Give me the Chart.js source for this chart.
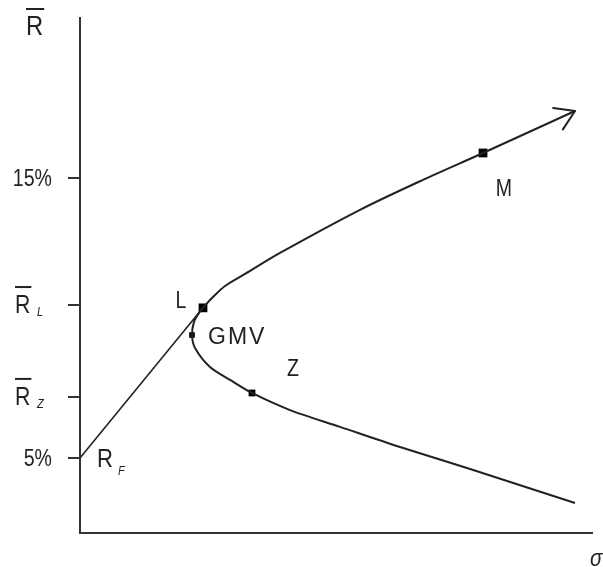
<!DOCTYPE html>
<html>
<head>
<meta charset="utf-8">
<script src="https://cdn.jsdelivr.net/npm/chart.js@4/dist/chart.umd.min.js"></script>
<style>
  html, body { margin: 0; padding: 0; background: #fff; }
  #wrap { width: 603px; height: 567px; }
</style>
</head>
<body>
<div id="wrap"><canvas id="grafico"></canvas></div>
<script>
// fronteira eficiente (desvio padrão, retorno esperado), do fim do ramo inferior até a seta
const fronteiraSigma = [19.8, 15.48, 12.8, 10.4, 8.4, 6.88, 6.0, 5.2, 4.6, 4.48, 4.56, 4.76, 4.92, 5.28, 5.8, 6.6, 8.0, 11.2, 13.72, 16.12, 19.8]
const fronteiraR     = [3.39, 4.64, 5.39, 6.11, 6.71, 7.32, 7.79, 8.25, 8.93, 9.39, 9.86, 10.18, 10.36, 10.71, 11.14, 11.57, 12.32, 13.86, 14.93, 15.89, 17.39]

// reta do ativo livre de risco até a carteira tangente L
const retaSigma = [0, 4.92]
const retaR     = [5, 10.36]

// carteiras marcadas
const pontosNome  = ['L', 'GMV', 'Z', 'M']
const pontosSigma = [4.92, 4.48, 6.88, 16.12]
const pontosR     = [10.36, 9.39, 7.32, 15.89]

// eixo vertical
const yTicks      = [5, 7.18, 10.46, 15]
const yTickTexto  = ['5%', 'R', 'R', '15%']
const yTickSub    = ['', 'Z', 'L', '']
const yTickBarra  = [false, true, true, false]

const COR = '#222'
const FONTE = '"Liberation Sans", Arial, sans-serif'

function escreve(ctx, txt, px, py, size, align, italic, espaco) {
    ctx.font = (italic ? 'italic ' : '') + size + 'px ' + FONTE
    ctx.textAlign = align || 'left'
    ctx.letterSpacing = (espaco || 0) + 'px'
    const w = ctx.measureText(txt).width * (espaco ? 1 : 0.85)
    ctx.fillText(txt, px, py + size * 0.36, w)
    ctx.letterSpacing = '0px'
    return w
}

function barra(ctx, left, w, topo) {
    ctx.fillRect(left, topo, w + 1, 2)
}

const textosPlugin = {
    id: 'textos',
    afterDraw(chart) {
        const { ctx, scales: { x, y } } = chart
        ctx.save()
        ctx.fillStyle = COR
        ctx.strokeStyle = COR

        // rótulos do eixo y
        yTicks.forEach((v, i) => {
            const py = y.getPixelForValue(v)
            if (yTickBarra[i]) {
                const w = escreve(ctx, yTickTexto[i], 15, py - 1, 25, 'left')
                barra(ctx, 15, w, py - 19)
                escreve(ctx, yTickSub[i], 37, py + 6, 13, 'left', true)
            } else {
                escreve(ctx, yTickTexto[i], 52, py, 23, 'right')
            }
        })

        // título do eixo y (R barra) e eixo x (sigma)
        const wR = escreve(ctx, 'R', 26, 25, 28, 'left')
        barra(ctx, 26, wR, 8)
        escreve(ctx, 'σ', 590, 557, 24, 'left', true)

        // nomes das carteiras
        const desloc = { L: [-22, -8, 'center', 0], GMV: [16, 1, 'left', 2], Z: [41, -25, 'center', 0], M: [21, 35, 'center', 0] }
        pontosNome.forEach((nome, i) => {
            const px = x.getPixelForValue(pontosSigma[i])
            const py = y.getPixelForValue(pontosR[i])
            const d = desloc[nome]
            escreve(ctx, nome, px + d[0], py + d[1], 23, d[2], false, d[3])
        })

        // R_F junto à origem da reta
        const fx = x.getPixelForValue(retaSigma[0])
        const fy = y.getPixelForValue(retaR[0])
        escreve(ctx, 'R', fx + 17, fy, 26, 'left')
        escreve(ctx, 'F', fx + 38, fy + 12, 13, 'left', true)

        // ponta de seta no fim da fronteira
        const n = fronteiraSigma.length
        const x1 = x.getPixelForValue(fronteiraSigma[n - 2]), y1 = y.getPixelForValue(fronteiraR[n - 2])
        const x2 = x.getPixelForValue(fronteiraSigma[n - 1]), y2 = y.getPixelForValue(fronteiraR[n - 1])
        const ang = Math.atan2(y1 - y2, x1 - x2)
        ctx.lineWidth = 2
        ctx.lineCap = 'round'
        ;[-0.56, 0.56].forEach(a => {
            ctx.beginPath()
            ctx.moveTo(x2, y2)
            ctx.lineTo(x2 + 22 * Math.cos(ang + a), y2 + 22 * Math.sin(ang + a))
            ctx.stroke()
        })
        ctx.restore()
    }
}

const ctx = document.getElementById('grafico').getContext('2d')
new Chart(ctx, {
    type: 'scatter',
    data: {
        datasets: [
            {
                data: fronteiraSigma.map((s, i) => ({ x: s, y: fronteiraR[i] })),
                showLine: true,
                borderColor: COR,
                borderWidth: 2,
                pointRadius: 0,
                tension: 0.3
            },
            {
                data: retaSigma.map((s, i) => ({ x: s, y: retaR[i] })),
                showLine: true,
                borderColor: COR,
                borderWidth: 1.6,
                pointRadius: 0
            },
            {
                data: pontosSigma.map((s, i) => ({ x: s, y: pontosR[i] })),
                pointStyle: 'rect',
                pointRadius: [6.2, 4, 4.8, 6.2],
                backgroundColor: '#000',
                borderColor: '#000',
                borderWidth: 0
            }
        ]
    },
    options: {
        responsive: true,
        maintainAspectRatio: false,
        animation: false,
        layout: { padding: { top: 18, right: 11, left: 0, bottom: 0 } },
        plugins: { legend: { display: false }, tooltip: { enabled: false } },
        scales: {
            x: {
                type: 'linear',
                min: 0,
                max: 20.48,
                ticks: { display: false },
                grid: { display: false },
                border: { display: true, color: '#333', width: 2 },
                afterFit(s) { s.height = 34 }
            },
            y: {
                type: 'linear',
                min: 2.32,
                max: 20.71,
                afterBuildTicks(s) { s.ticks = yTicks.map(v => ({ value: v })) },
                ticks: { display: false },
                grid: { drawOnChartArea: false, drawTicks: true, tickLength: 12, color: '#333', lineWidth: 2 },
                border: { display: true, color: '#333', width: 2 },
                afterFit(s) { s.width = 80 }
            }
        }
    },
    plugins: [textosPlugin]
})
</script>
</body>
</html>
